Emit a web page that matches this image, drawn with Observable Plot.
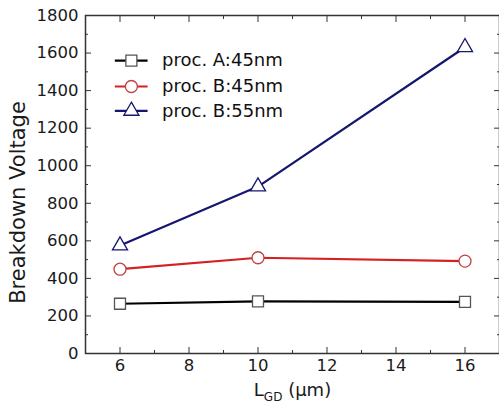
<!DOCTYPE html>
<html>
<head>
<meta charset="utf-8">
<script src="https://cdn.jsdelivr.net/npm/d3@7"></script>
<script src="https://cdn.jsdelivr.net/npm/@observablehq/plot@0.6"></script>
<style>
  html, body { margin: 0; padding: 0; background: #fff; }
  #chart { width: 499px; height: 419px; }
</style>
</head>
<body>
<div id="chart"></div>
<script>
// ---- data ----
const lgd = [6, 10, 16];
const procA45 = [265, 278, 275];
const procB45 = [449, 510, 492];
const procB55 = [575, 889, 1631];
const seriesNames = ["proc. A:45nm", "proc. B:45nm", "proc. B:55nm"];
const lineColors = ["#000000", "#d42222", "#15166e"];
const markerColors = ["#555555", "#c24040", "#15166e"];
const symbols = ["square", "circle", "triangle"];
const markerR = [6.2, 6, 5.6];
const xMajor = [6, 8, 10, 12, 14, 16];
const xMinor = [5, 7, 9, 11, 13, 15, 17];
const yMajor = [0, 200, 400, 600, 800, 1000, 1200, 1400, 1600, 1800];
const yMinor = [100, 300, 500, 700, 900, 1100, 1300, 1500, 1700];
// legend layout (data space)
const legendY = [1560, 1422, 1292];
const legendLineX = [5.85, 6.8];
const legendMarkX = 6.33;
const legendTextX = 7.22;

const values = [procA45, procB45, procB55];
const data = [];
values.forEach((arr, s) => arr.forEach((v, i) => data.push({series: seriesNames[s], x: lgd[i], y: v})));

const font = "DejaVu Sans, sans-serif";
const marks = [];

// series lines and markers
seriesNames.forEach((name, s) => {
  const d = data.filter(r => r.series === name);
  marks.push(Plot.line(d, {x: "x", y: "y", stroke: lineColors[s], strokeWidth: 2.2}));
});
seriesNames.forEach((name, s) => {
  const d = data.filter(r => r.series === name);
  marks.push(Plot.dot(d, {x: "x", y: "y", symbol: () => symbols[s], r: markerR[s], stroke: markerColors[s], fill: "white", strokeWidth: 1.3}));
});

// legend
seriesNames.forEach((name, s) => {
  const row = [{name, y: legendY[s]}];
  marks.push(Plot.link(row, {x1: legendLineX[0], x2: legendLineX[1], y1: "y", y2: "y", stroke: lineColors[s], strokeWidth: 2.2}));
  marks.push(Plot.dot(row, {x: legendMarkX, y: "y", symbol: () => symbols[s], r: markerR[s], stroke: markerColors[s], fill: "white", strokeWidth: 1.3}));
  marks.push(Plot.text(row, {x: legendTextX, y: "y", text: "name", textAnchor: "start", fontSize: 18, fill: "#111"}));
});

// frame
marks.push(Plot.frame({stroke: "#333", strokeWidth: 1.5}));

// tick labels
marks.push(Plot.axisY(yMajor, {anchor: "left", tickSize: 0, tickPadding: 7, fontSize: 16.5, color: "#1a1a1a", label: null, tickFormat: "d"}));
marks.push(Plot.axisX(xMajor, {anchor: "bottom", tickSize: 0, tickPadding: 6, fontSize: 16.5, color: "#1a1a1a", label: null, tickFormat: "d"}));

// inward ticks
marks.push(Plot.axisY(yMajor, {anchor: "left", tickSize: 6, dx: 6, text: null, label: null, stroke: "#333"}));
marks.push(Plot.axisY(yMinor, {anchor: "left", tickSize: 3, dx: 3, text: null, label: null, stroke: "#333"}));
marks.push(Plot.axisY(yMajor, {anchor: "right", tickSize: 6, dx: -6, text: null, label: null, stroke: "#333"}));
marks.push(Plot.axisY(yMinor, {anchor: "right", tickSize: 3, dx: -3, text: null, label: null, stroke: "#333"}));
marks.push(Plot.axisX(xMajor, {anchor: "bottom", tickSize: 6, dy: -6, text: null, label: null, stroke: "#333"}));
marks.push(Plot.axisX(xMinor, {anchor: "bottom", tickSize: 3, dy: -3, text: null, label: null, stroke: "#333"}));
marks.push(Plot.axisX(xMajor, {anchor: "top", tickSize: 6, dy: 6, text: null, label: null, stroke: "#333"}));
marks.push(Plot.axisX(xMinor, {anchor: "top", tickSize: 3, dy: 3, text: null, label: null, stroke: "#333"}));

// axis titles
marks.push(Plot.text(["Breakdown Voltage"], {frameAnchor: "left", textAnchor: "middle", text: d => d, rotate: -90, dx: -67, dy: 18, fontSize: 21, fill: "#1a1a1a"}));
marks.push(Plot.text(["LGD (μm)"], {frameAnchor: "bottom", text: d => d, dy: 42, fontSize: 18, fill: "#1a1a1a"}));

const chart = Plot.plot({
  width: 499,
  height: 419,
  marginLeft: 85,
  marginTop: 15,
  marginRight: 0,
  marginBottom: 66,
  style: {fontFamily: font, background: "white", overflow: "visible"},
  x: {domain: [5, 17], axis: null},
  y: {domain: [0, 1800], axis: null},
  marks
});

// subscript for the x title
const t = Array.from(chart.querySelectorAll("text")).find(el => el.textContent === "LGD (μm)");
if (t) {
  t.textContent = "";
  const ns = "http://www.w3.org/2000/svg";
  const a = document.createElementNS(ns, "tspan"); a.textContent = "L";
  const b = document.createElementNS(ns, "tspan"); b.textContent = "GD"; b.setAttribute("font-size", "12"); b.setAttribute("dy", "5");
  const c = document.createElementNS(ns, "tspan"); c.textContent = " (μm)"; c.setAttribute("dy", "-5");
  t.append(a, b, c);
}

document.getElementById("chart").appendChild(chart);
</script>
</body>
</html>
